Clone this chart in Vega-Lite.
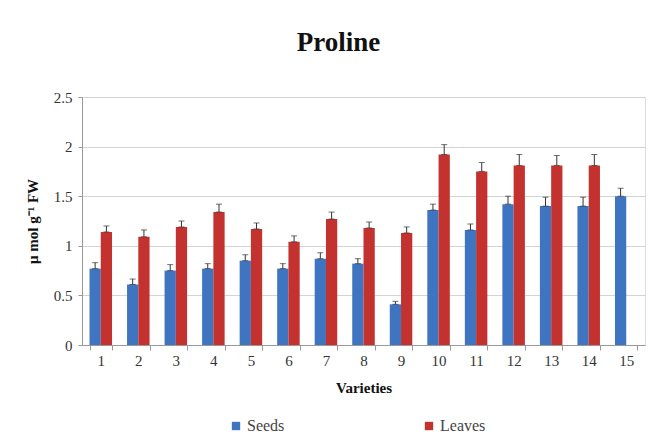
{
  "$schema": "https://vega.github.io/schema/vega-lite/v6.json",
  "autosize": {"type": "none"},
  "width": 563,
  "height": 248,
  "padding": {"left": 82, "top": 97, "right": 5, "bottom": 91},
  "background": "white",
  "config": {"font": "Liberation Serif"},
  "title": {
    "text": "Proline",
    "font": "Liberation Serif",
    "fontSize": 27,
    "fontWeight": "bold",
    "color": "#111",
    "anchor": "middle",
    "offset": 33,
    "dx": -25
  },
  "data": {
    "values": [
      {"variety": 1, "type": "Seeds", "value": 0.77, "upper": 0.83},
      {"variety": 1, "type": "Leaves", "value": 1.14, "upper": 1.2},
      {"variety": 2, "type": "Seeds", "value": 0.61, "upper": 0.665},
      {"variety": 2, "type": "Leaves", "value": 1.09, "upper": 1.16},
      {"variety": 3, "type": "Seeds", "value": 0.75, "upper": 0.81},
      {"variety": 3, "type": "Leaves", "value": 1.19, "upper": 1.25},
      {"variety": 4, "type": "Seeds", "value": 0.77, "upper": 0.82},
      {"variety": 4, "type": "Leaves", "value": 1.34, "upper": 1.42},
      {"variety": 5, "type": "Seeds", "value": 0.85, "upper": 0.91},
      {"variety": 5, "type": "Leaves", "value": 1.17, "upper": 1.23},
      {"variety": 6, "type": "Seeds", "value": 0.77, "upper": 0.82},
      {"variety": 6, "type": "Leaves", "value": 1.04, "upper": 1.1},
      {"variety": 7, "type": "Seeds", "value": 0.87, "upper": 0.93},
      {"variety": 7, "type": "Leaves", "value": 1.27, "upper": 1.34},
      {"variety": 8, "type": "Seeds", "value": 0.82, "upper": 0.87},
      {"variety": 8, "type": "Leaves", "value": 1.18, "upper": 1.24},
      {"variety": 9, "type": "Seeds", "value": 0.41, "upper": 0.44},
      {"variety": 9, "type": "Leaves", "value": 1.13, "upper": 1.19},
      {"variety": 10, "type": "Seeds", "value": 1.36, "upper": 1.42},
      {"variety": 10, "type": "Leaves", "value": 1.92, "upper": 2.02},
      {"variety": 11, "type": "Seeds", "value": 1.16, "upper": 1.22},
      {"variety": 11, "type": "Leaves", "value": 1.75, "upper": 1.84},
      {"variety": 12, "type": "Seeds", "value": 1.42, "upper": 1.5},
      {"variety": 12, "type": "Leaves", "value": 1.81, "upper": 1.92},
      {"variety": 13, "type": "Seeds", "value": 1.4, "upper": 1.49},
      {"variety": 13, "type": "Leaves", "value": 1.81, "upper": 1.91},
      {"variety": 14, "type": "Seeds", "value": 1.4, "upper": 1.49},
      {"variety": 14, "type": "Leaves", "value": 1.81, "upper": 1.92},
      {"variety": 15, "type": "Seeds", "value": 1.5, "upper": 1.58}
    ]
  },
  "encoding": {
    "x": {
      "field": "variety",
      "type": "ordinal",
      "scale": {"paddingInner": 0.4, "paddingOuter": 0.2},
      "axis": {
        "title": "Varieties",
        "labelAngle": 0,
        "bandPosition": 0,
        "tickBand": "extent",
        "labelFont": "Liberation Serif",
        "labelFontSize": 15,
        "labelColor": "#333",
        "labelPadding": 3,
        "titleFont": "Liberation Serif",
        "titleFontSize": 15,
        "titleFontWeight": "bold",
        "titleColor": "#111",
        "titlePadding": 12,
        "domainColor": "#999",
        "tickColor": "#999",
        "tickSize": 5
      }
    },
    "xOffset": {"field": "type", "sort": ["Seeds", "Leaves"]},
    "y": {
      "field": "value",
      "type": "quantitative",
      "scale": {"domain": [0, 2.5]},
      "axis": {
        "title": "μ mol g⁻¹ FW",
        "values": [0, 0.5, 1, 1.5, 2, 2.5],
        "format": "~g",
        "labelFont": "Liberation Serif",
        "labelFontSize": 15,
        "labelColor": "#333",
        "labelPadding": 6,
        "titleFont": "Liberation Serif",
        "titleFontSize": 15,
        "titleFontWeight": "bold",
        "titleColor": "#111",
        "titleX": -42,
        "gridColor": "#d4d4d4",
        "domainColor": "#999",
        "tickColor": "#999",
        "tickSize": 4
      }
    }
  },
  "layer": [
    {
      "mark": {"type": "bar", "stroke": null},
      "encoding": {
        "color": {
          "field": "type",
          "type": "nominal",
          "scale": {"domain": ["Seeds", "Leaves"], "range": ["#3f74c0", "#c4322f"]},
          "legend": {
            "title": null,
            "orient": "none",
            "legendX": 146,
            "legendY": 321,
            "direction": "horizontal",
            "columns": 2,
            "columnPadding": 136,
            "symbolType": "square",
            "symbolSize": 70,
            "symbolStrokeWidth": 0,
            "labelFont": "Liberation Serif",
            "labelFontSize": 16,
            "labelColor": "#444",
            "labelOffset": 3
          }
        }
      }
    },
    {
      "mark": {"type": "errorbar", "ticks": {"size": 6, "color": "#333"}, "rule": {"color": "#333"}},
      "encoding": {
        "y2": {"field": "upper"}
      }
    }
  ]
}
